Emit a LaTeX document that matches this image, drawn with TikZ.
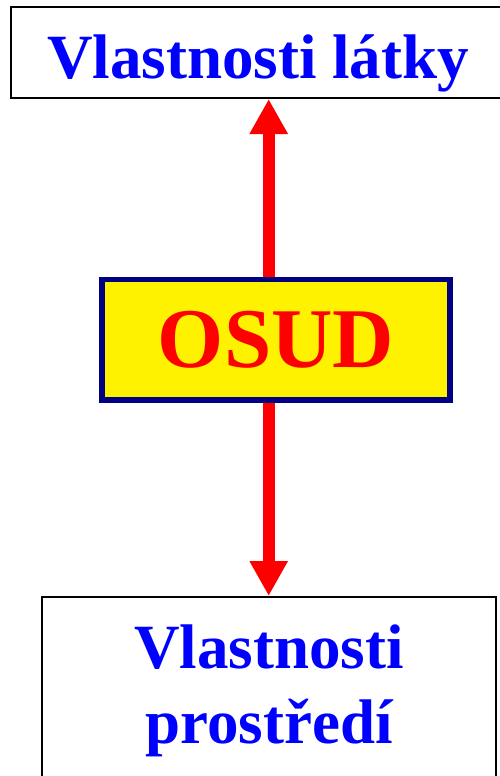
\documentclass[tikz,border=0pt]{standalone}
\usepackage{fontspec}
\setmainfont{Liberation Serif}
\usetikzlibrary{arrows.meta}
\definecolor{navyline}{RGB}{0,0,128}

\tikzset{
  titlebox/.style={draw=black, line width=2pt, inner sep=0pt, text=blue,
    font=\bfseries\fontsize{63}{75}\selectfont, align=center},
  fatebox/.style={draw=navyline, fill=yellow, line width=5.7pt, inner sep=0pt,
    minimum width=347.6pt, minimum height=120.5pt, text=red,
    font=\bfseries\fontsize{85}{90}\selectfont},
  fatearrow/.style={draw=red, line width=12pt, -{Triangle[length=35pt,width=36pt]}}
}

\begin{document}
\begin{tikzpicture}[x=1pt,y=-1pt]
  \useasboundingbox (0,0) rectangle (500,776);

  \node[titlebox, minimum width=494pt, minimum height=91pt,
    text height=51pt, text depth=0pt] (latka) at (258,52.5) {Vlastnosti látky};
  \node[fatebox] (osud) at (276,339.8) {OSUD};
  \node[titlebox, minimum width=454pt, minimum height=203pt,
    text height=130pt, text depth=41pt] (prostredi) at (269,698.5) {Vlastnosti\\prostředí};

  \coordinate (axis) at (268.7,339.8);
  \draw[fatearrow] (osud.north -| axis) -- (latka.south -| axis);
  \draw[fatearrow] (osud.south -| axis) -- (prostredi.north -| axis);
\end{tikzpicture}
\end{document}
